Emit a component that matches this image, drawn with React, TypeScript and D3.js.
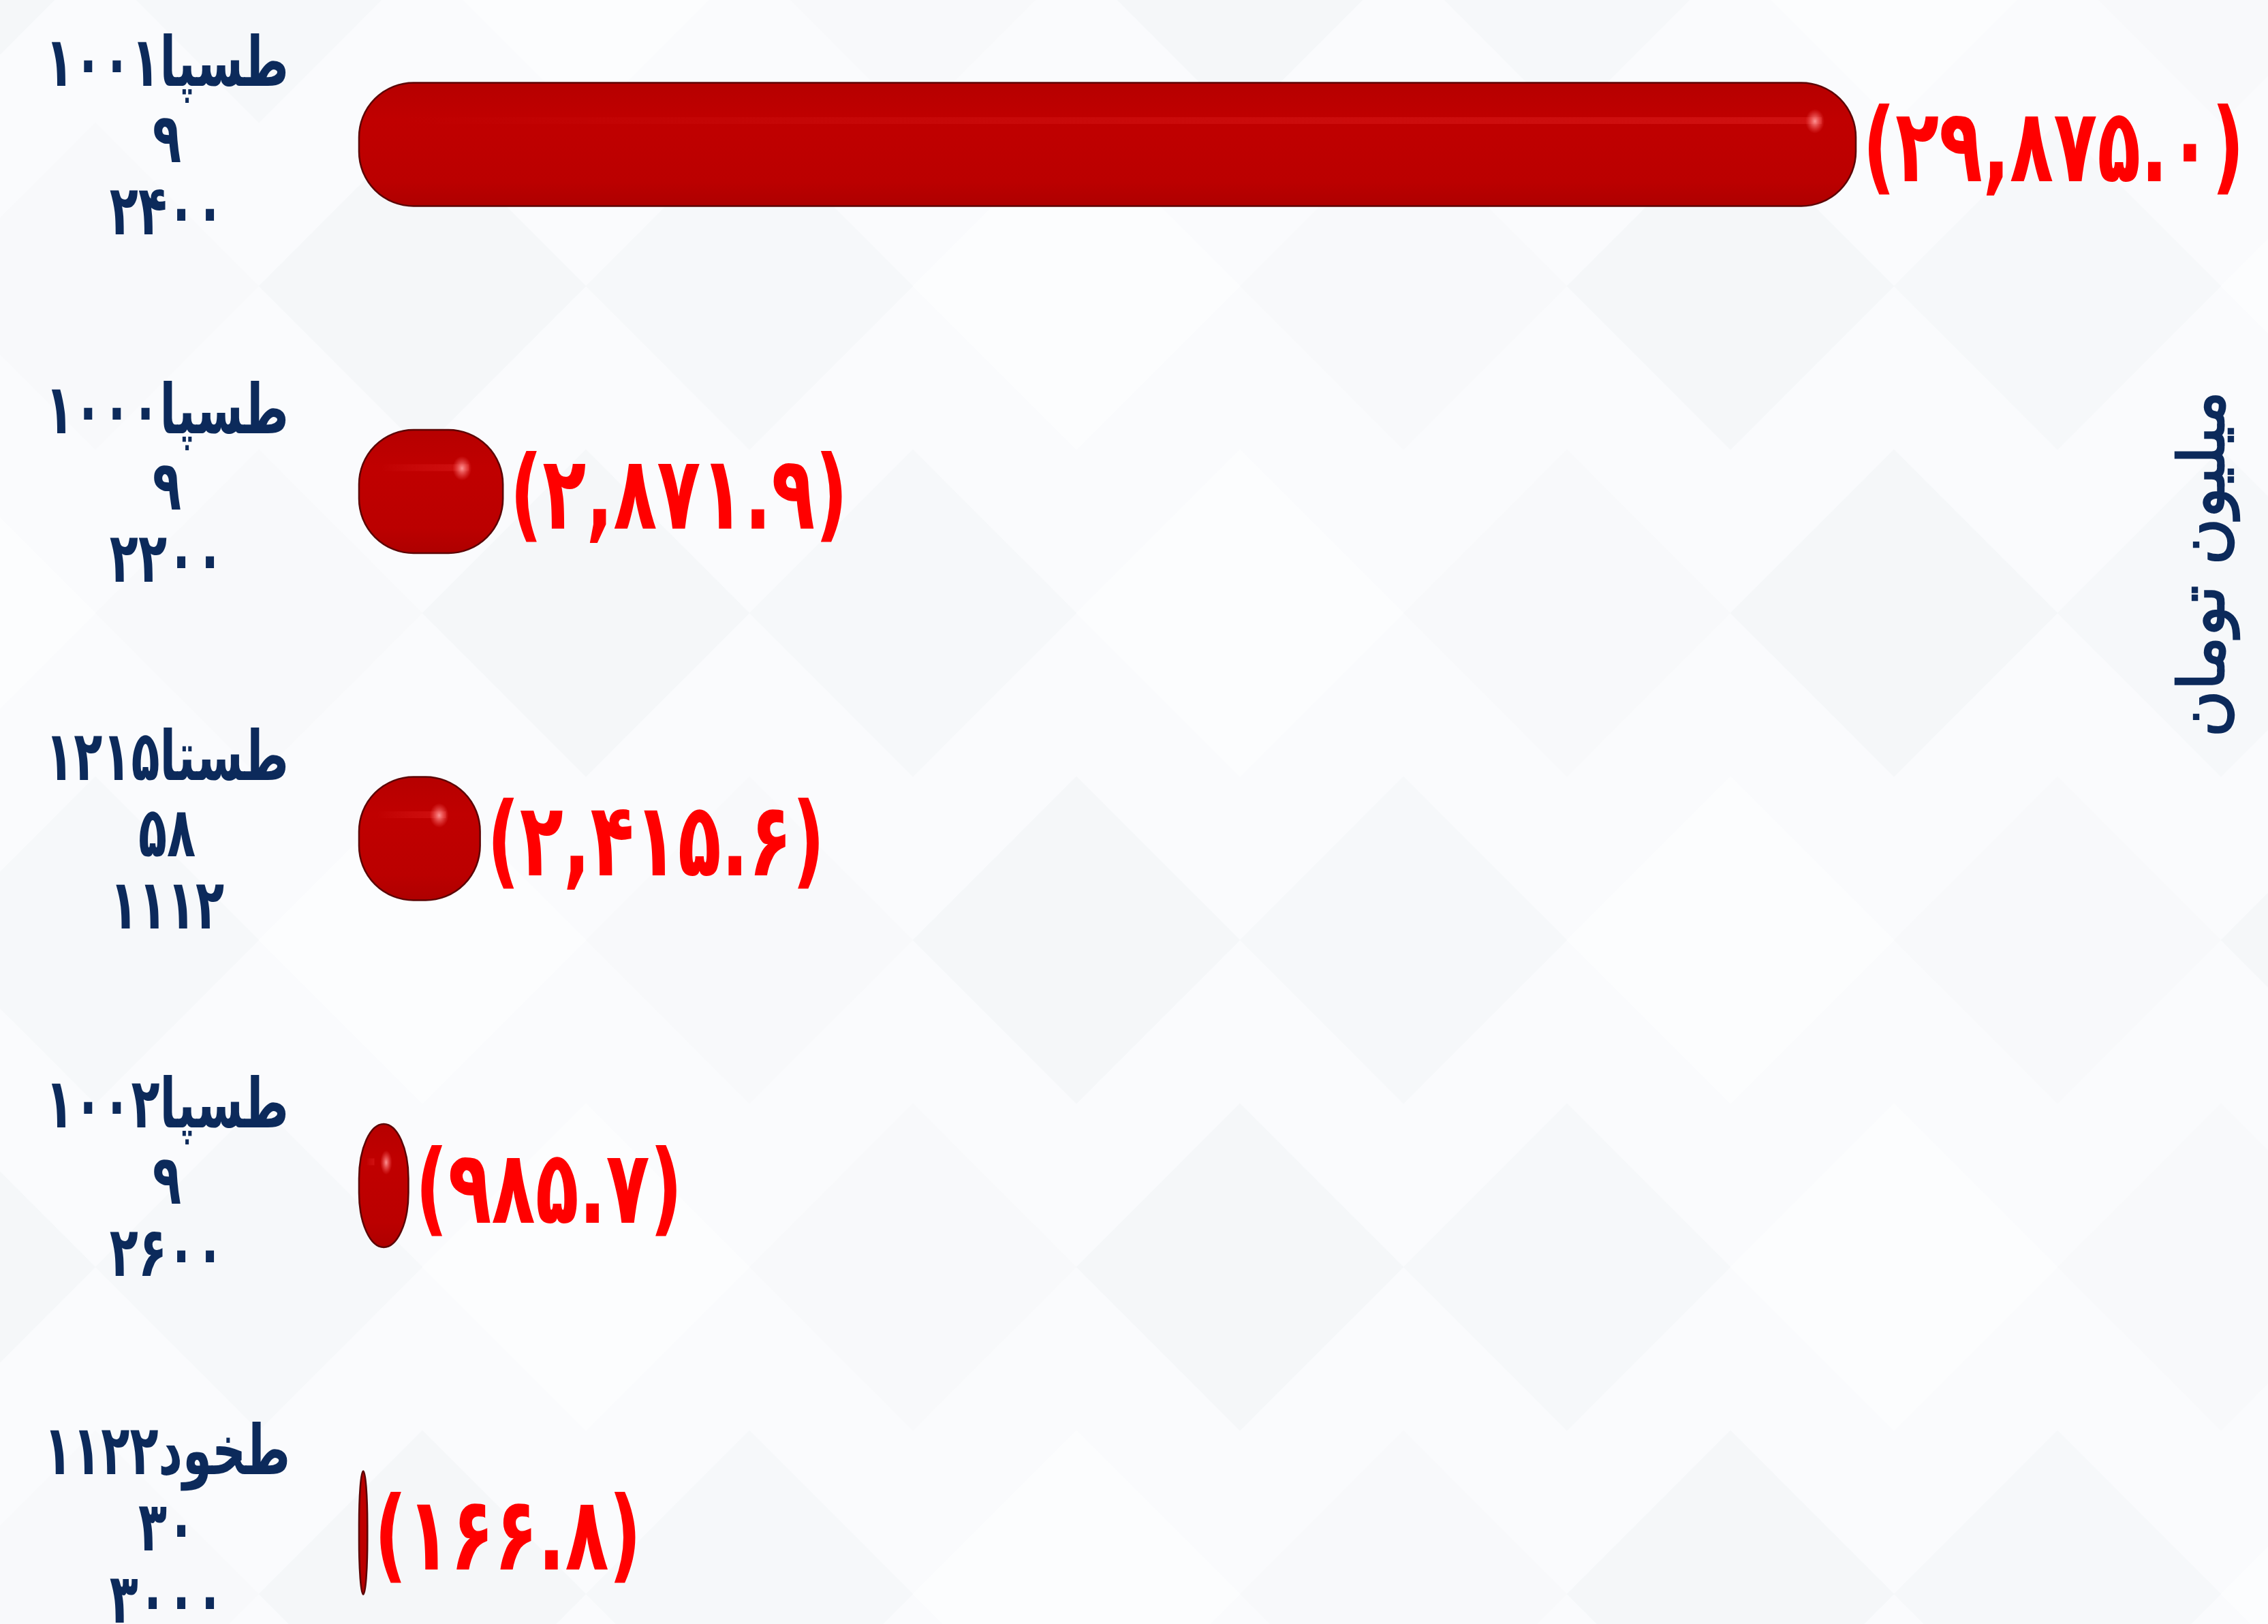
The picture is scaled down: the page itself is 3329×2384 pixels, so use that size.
import React from 'react';
import * as d3 from 'd3';

// دسته ها (سه سطری) و مقادیر به میلیون تومان
const symbols = ['طسپا۱۰۰۱', 'طسپا۱۰۰۰', 'طستا۱۲۱۵', 'طسپا۱۰۰۲', 'طخود۱۱۲۲'];
const strikes = ['۹', '۹', '۵۸', '۹', '۳۰'];
const prices = ['۲۴۰۰', '۲۲۰۰', '۱۱۱۲', '۲۶۰۰', '۳۰۰۰'];
const values = [29875.0, 2871.9, 2415.6, 985.7, 166.8];
const axisTitle = 'میلیون تومان';

const W = 3329, H = 2384;
const margin = { top: 212, bottom: 134, left: 527, right: 605 };
const barH = 181;

const toFa = (s: string) => s.replace(/\d/g, d => '۰۱۲۳۴۵۶۷۸۹'[+d]);
const fmt = (v: number) => '(' + toFa(d3.format(',.1f')(v)) + ')';

export default function App() {
  const x = d3.scaleLinear().domain([0, 29875]).range([margin.left, W - margin.right]);
  const y = d3.scalePoint<string>().domain(symbols).range([margin.top, H - margin.bottom]);

  // کاشی های لوزی پس زمینه
  const tiles: { cx: number; cy: number; k: number }[] = [];
  d3.range(-1, 8).forEach(i => d3.range(-1, 6).forEach(j => {
    tiles.push({ cx: i * 480 + (j % 2) * 240 - 100, cy: j * 480 - 60, k: (i * 3 + j * 5) % 4 });
  }));
  const tileFill = ['#f5f7f9', '#f8f9fb', '#fcfdfe', '#f6f8fa'];

  return (
    <svg width={W} height={H} style={{ position: 'absolute', left: 0, top: 0, display: 'block' }}>
      <defs>
        <linearGradient id="barG" x1="0" y1="0" x2="0" y2="1">
          <stop offset="0" stopColor="#b60000" />
          <stop offset="0.3" stopColor="#c00000" />
          <stop offset="0.8" stopColor="#bb0000" />
          <stop offset="1" stopColor="#ae0000" />
        </linearGradient>
        <radialGradient id="hl">
          <stop offset="0" stopColor="#ff9a9a" stopOpacity="0.95" />
          <stop offset="1" stopColor="#ff6060" stopOpacity="0" />
        </radialGradient>
        <linearGradient id="streak" x1="0" y1="0" x2="1" y2="0">
          <stop offset="0" stopColor="#ff5050" stopOpacity="0" />
          <stop offset="0.5" stopColor="#ff4040" stopOpacity="0.15" />
          <stop offset="1" stopColor="#ff4040" stopOpacity="0.25" />
        </linearGradient>
      </defs>
      <rect width={W} height={H} fill="#fafbfd" />
      <g>
        {tiles.map((t, i) => (
          <rect key={i} x={t.cx - 170} y={t.cy - 170} width={340} height={340}
            fill={tileFill[t.k]} transform={`rotate(45 ${t.cx} ${t.cy})`} />
        ))}
      </g>

      {symbols.map((s, i) => {
        const cy = y(s)!;
        const x0 = x(0), x1 = x(values[i]);
        const w = x1 - x0;
        const rx = Math.min(80, w / 2);
        return (
          <g key={s}>
            <rect x={x0} y={cy - barH / 2} width={w} height={barH} rx={rx} ry={80}
              fill="url(#barG)" stroke="#5c0505" strokeWidth={2.5} />
            {w > 40 && (
              <rect x={x0 + Math.min(60, w * 0.15)} y={cy - 40} width={Math.max(0, w - Math.min(60, w * 0.15) - 50)} height={10}
                fill="url(#streak)" />
            )}
            {w > 30 && <ellipse cx={x1 - Math.min(60, w * 0.45)} cy={cy - 34} rx={Math.min(14, w * 0.12)} ry={18} fill="url(#hl)" />}
            <text transform={`translate(${x1 + 10},${cy}) scale(0.84,1.2)`} dy="0.36em" fill="#ff0000"
              fontFamily="DejaVu Sans" fontWeight="bold" fontSize={125} direction="ltr">{fmt(values[i])}</text>
            <g fill="#0c2a5b" fontFamily="DejaVu Sans" fontWeight="bold" fontSize={92} textAnchor="middle">
              <text transform={`translate(245,${cy - 122}) scale(0.75,1.1)`} dy="0.36em" direction="rtl">{s}</text>
              <text transform={`translate(245,${cy - 10}) scale(0.75,1.1)`} dy="0.36em">{strikes[i]}</text>
              <text transform={`translate(245,${cy + 96}) scale(0.75,1.1)`} dy="0.36em">{prices[i]}</text>
            </g>
          </g>
        );
      })}

      <text transform={`translate(3230,828) rotate(-90)`} textAnchor="middle" dy="0.36em"
        fill="#0c2a5b" stroke="#0c2a5b" strokeWidth={2.5} fontFamily="DejaVu Sans" fontSize={94}
        direction="rtl">{axisTitle}</text>
    </svg>
  );
}
